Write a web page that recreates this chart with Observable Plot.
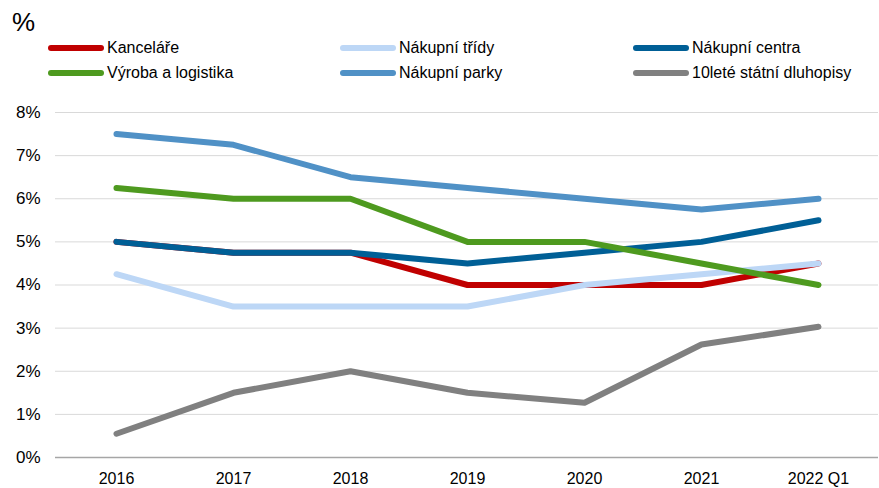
<!DOCTYPE html>
<html>
<head>
<meta charset="utf-8">
<script src="https://cdn.jsdelivr.net/npm/d3@7"></script>
<script src="https://cdn.jsdelivr.net/npm/@observablehq/plot@0.6"></script>
<style>
  body { margin: 0; background: #fff; font-family: "Liberation Sans", Arial, sans-serif; }
  #wrap { position: relative; width: 879px; height: 488px; }
  #unit { position: absolute; left: 12px; top: 5px; font-size: 26px; line-height: 34px; color: #000; }
  .leg { position: absolute; font-size: 16px; color: #000; display: flex; align-items: center; height: 20px; }
  .sw { width: 56px; height: 6px; border-radius: 3px; margin-right: 3px; }
  #chart { position: absolute; left: 0; top: 95px; }
</style>
</head>
<body>
<div id="wrap">
  <div id="unit">%</div>
  <div id="legend"></div>
  <div id="chart"></div>
</div>
<script>
const periods = ["2016", "2017", "2018", "2019", "2020", "2021", "2022 Q1"];
const seriesNames = ["Kanceláře", "Nákupní třídy", "Nákupní centra", "Výroba a logistika", "Nákupní parky", "10leté státní dluhopisy"];
const colors = ["#C00000", "#BDD7F6", "#005F96", "#4E9A1F", "#5091C6", "#808080"];
const kancelare = [5.0, 4.75, 4.75, 4.0, 4.0, 4.0, 4.5];
const nakupniTridy = [4.25, 3.5, 3.5, 3.5, 4.0, 4.25, 4.5];
const nakupniCentra = [5.0, 4.75, 4.75, 4.5, 4.75, 5.0, 5.5];
const vyrobaLogistika = [6.25, 6.0, 6.0, 5.0, 5.0, 4.5, 4.0];
const nakupniParky = [7.5, 7.25, 6.5, 6.25, 6.0, 5.75, 6.0];
const dluhopisy = [0.55, 1.5, 2.0, 1.5, 1.27, 2.62, 3.03];
const yTicks = [0, 1, 2, 3, 4, 5, 6, 7, 8];

const allValues = [kancelare, nakupniTridy, nakupniCentra, vyrobaLogistika, nakupniParky, dluhopisy];
const data = [];
seriesNames.forEach((s, i) => {
  periods.forEach((p, j) => data.push({series: s, period: p, value: allValues[i][j]}));
});

// Legend (HTML)
const legendPos = [[48, 38], [340, 38], [633, 38], [48, 63], [340, 63], [633, 63]];
const legend = document.getElementById("legend");
seriesNames.forEach((name, k) => {
  const d = document.createElement("div");
  d.className = "leg";
  d.style.left = legendPos[k][0] + "px";
  d.style.top = legendPos[k][1] + "px";
  d.innerHTML = `<span class="sw" style="background:${colors[k]}"></span><span>${name}</span>`;
  legend.appendChild(d);
});

const chart = Plot.plot({
  width: 879,
  height: 393,
  marginLeft: 55,
  marginRight: 1,
  marginTop: 17,
  marginBottom: 31,
  style: {fontFamily: "Liberation Sans, Arial, sans-serif", fontSize: "15px", color: "#000", background: "#fff"},
  x: {type: "point", domain: periods, padding: 0.5, label: null},
  y: {domain: [0, 8], label: null},
  color: {domain: seriesNames, range: colors},
  marks: [
    Plot.ruleY(yTicks.filter(t => t > 0), {stroke: "#d9d9d9", strokeWidth: 1}),
    Plot.ruleY([0], {stroke: "#a6a6a6", strokeWidth: 1.5}),
    Plot.axisY({ticks: yTicks, tickSize: 0, tickPadding: 15, tickFormat: d => d + "%", fontSize: 17}),
    Plot.axisX({tickSize: 0, tickPadding: 15, fontSize: 16}),
    Plot.line(data, {x: "period", y: "value", z: "series", stroke: "series", strokeWidth: 6, strokeLinecap: "round", strokeLinejoin: "round", curve: "linear"})
  ]
});
document.getElementById("chart").appendChild(chart);
</script>
</body>
</html>
